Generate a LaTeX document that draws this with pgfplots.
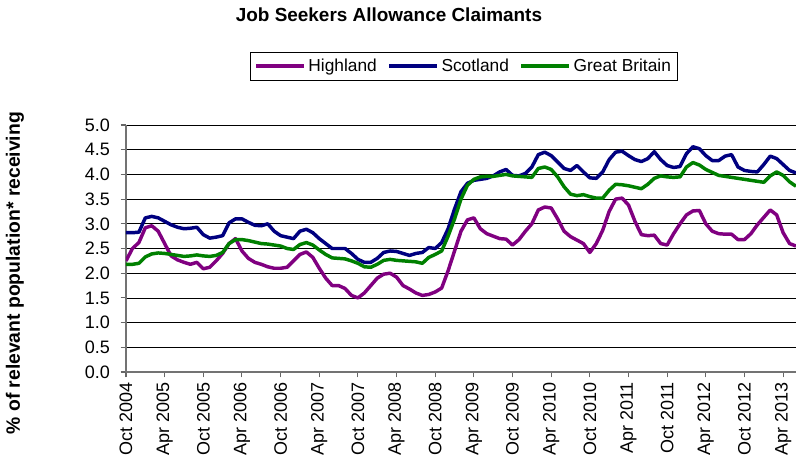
\documentclass[border=0pt]{standalone}
\usepackage{fontspec}
\setmainfont{Liberation Sans}
\usepackage{pgfplots}
\usepackage{pgfplotstable}
\pgfplotsset{compat=1.18}
\definecolor{hl}{RGB}{128,0,128}
\definecolor{sc}{RGB}{0,0,128}
\definecolor{gb}{RGB}{0,128,0}
\pgfplotstableread{
i H S G
0 2.25 2.82 2.18
1 2.50 2.82 2.18
2 2.62 2.83 2.20
3 2.92 3.12 2.33
4 2.96 3.15 2.39
5 2.85 3.12 2.41
6 2.60 3.05 2.40
7 2.35 2.98 2.38
8 2.27 2.93 2.36
9 2.22 2.90 2.34
10 2.18 2.91 2.35
11 2.22 2.93 2.37
12 2.09 2.78 2.35
13 2.12 2.71 2.34
14 2.25 2.73 2.36
15 2.40 2.76 2.42
16 2.60 3.02 2.60
17 2.70 3.10 2.68
18 2.45 3.10 2.68
19 2.30 3.03 2.66
20 2.22 2.97 2.63
21 2.18 2.96 2.60
22 2.13 3.00 2.59
23 2.10 2.85 2.57
24 2.10 2.76 2.55
25 2.12 2.73 2.50
26 2.25 2.70 2.48
27 2.38 2.85 2.58
28 2.43 2.89 2.62
29 2.32 2.82 2.57
30 2.10 2.70 2.47
31 1.90 2.60 2.38
32 1.75 2.50 2.31
33 1.75 2.50 2.30
34 1.69 2.50 2.29
35 1.55 2.40 2.25
36 1.50 2.28 2.20
37 1.60 2.22 2.13
38 1.75 2.22 2.12
39 1.90 2.30 2.18
40 1.98 2.42 2.26
41 2.00 2.45 2.28
42 1.92 2.44 2.26
43 1.75 2.40 2.25
44 1.68 2.36 2.24
45 1.60 2.40 2.23
46 1.55 2.42 2.20
47 1.57 2.52 2.32
48 1.62 2.50 2.38
49 1.70 2.62 2.45
50 2.05 2.90 2.75
51 2.45 3.30 3.10
52 2.85 3.65 3.50
53 3.08 3.82 3.78
54 3.12 3.88 3.90
55 2.90 3.90 3.95
56 2.80 3.92 3.96
57 2.75 3.97 3.96
58 2.70 4.05 3.98
59 2.69 4.10 4.00
60 2.57 3.98 3.97
61 2.68 3.97 3.96
62 2.85 4.02 3.95
63 3.00 4.15 3.94
64 3.28 4.40 4.12
65 3.34 4.45 4.15
66 3.32 4.38 4.10
67 3.10 4.25 3.95
68 2.85 4.12 3.75
69 2.74 4.08 3.60
70 2.67 4.18 3.57
71 2.60 4.05 3.59
72 2.42 3.93 3.55
73 2.60 3.92 3.52
74 2.87 4.05 3.52
75 3.25 4.30 3.68
76 3.50 4.45 3.80
77 3.52 4.47 3.79
78 3.38 4.38 3.77
79 3.05 4.30 3.74
80 2.78 4.26 3.71
81 2.76 4.32 3.80
82 2.77 4.46 3.92
83 2.60 4.30 3.97
84 2.57 4.18 3.95
85 2.80 4.14 3.94
86 3.00 4.16 3.95
87 3.18 4.42 4.15
88 3.26 4.56 4.24
89 3.27 4.52 4.19
90 3.00 4.38 4.10
91 2.85 4.28 4.04
92 2.80 4.28 3.98
93 2.79 4.37 3.96
94 2.79 4.40 3.94
95 2.68 4.15 3.92
96 2.68 4.08 3.90
97 2.80 4.06 3.88
98 2.98 4.05 3.86
99 3.13 4.20 3.84
100 3.28 4.37 3.97
101 3.18 4.32 4.05
102 2.82 4.20 3.98
103 2.60 4.08 3.85
104 2.55 4.03 3.76
}\jsadata
\begin{document}
\begin{tikzpicture}
\begin{axis}[
  scale only axis,
  width=502.5pt, height=185.25pt,
  xmin=0, xmax=104, ymin=0, ymax=5,
  axis x line*=bottom, axis y line*=left,
  axis line style={black!55, line width=1.3pt},
  ytick={0,0.5,1,1.5,2,2.5,3,3.5,4,4.5,5},
  xtick={0,6,...,102},
  xticklabels={Oct 2004,Apr 2005,Oct 2005,Apr 2006,Oct 2006,Apr 2007,Oct 2007,Apr 2008,Oct 2008,Apr 2009,Oct 2009,Apr 2010,Oct 2010,Apr 2011,Oct 2011,Apr 2012,Oct 2012,Apr 2013},
  xticklabel style={rotate=90, anchor=east, font=\fontsize{13.5}{16}\selectfont},
  yticklabel style={font=\fontsize{13.5}{16}\selectfont, xshift=-4.5pt},
  /pgf/number format/.cd, fixed, fixed zerofill, precision=1, assume math mode=true,
  /pgfplots/.cd,
  tick align=outside,
  major tick length=4pt,
  tick style={black!60, line width=0.8pt},
  ymajorgrids,
  major grid style={black, line width=0.6pt},
  legend style={at={(axis description cs:0.5045,1.239)}, anchor=center, draw=black, line width=0.6pt,
    legend columns=3, font=\fontsize{13}{15}\selectfont, inner xsep=3pt, inner ysep=3pt,
    /tikz/every even column/.append style={column sep=6pt}},
  legend image code/.code={\draw[#1, line width=2.5pt] (0pt,0pt) -- (36pt,0pt);},
  clip mode=individual,
]
\addplot[hl, line width=2.6pt, line join=round] table[x=i, y=H] {\jsadata};
\addlegendentry{Highland}
\addplot[sc, line width=2.6pt, line join=round] table[x=i, y=S] {\jsadata};
\addlegendentry{Scotland}
\addplot[gb, line width=2.6pt, line join=round] table[x=i, y=G] {\jsadata};
\addlegendentry{Great Britain}
\node[font=\bfseries\fontsize{14.2}{16}\selectfont] at (axis description cs:0.3925,1.445) {Job Seekers Allowance Claimants};
\node[font=\bfseries\fontsize{14.5}{17}\selectfont, rotate=90] at (axis description cs:-0.1657,0.40) {\% of relevant population* receiving};
\end{axis}
\pgfresetboundingbox
\useasboundingbox (-94.5pt,-69.75pt) rectangle (502.5pt,279pt);
\end{tikzpicture}
\end{document}
